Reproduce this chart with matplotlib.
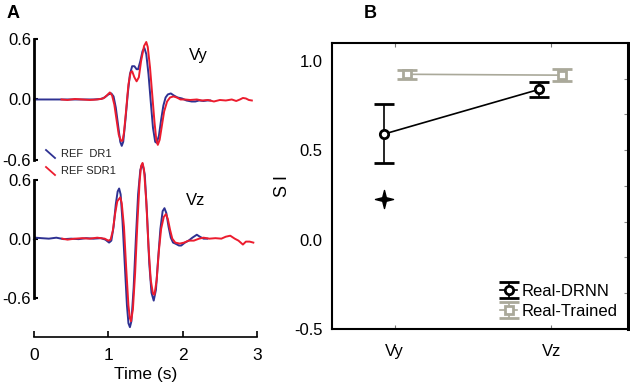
import numpy as np
import matplotlib
matplotlib.use('Agg')
import matplotlib.pyplot as plt
from matplotlib.lines import Line2D
from matplotlib.path import Path

plt.rcParams['font.family'] = ['Liberation Sans', 'DejaVu Sans']

# ---- panel A: waveforms ----
vy_dr1_t = [0.00, 0.30, 0.60, 0.80, 0.90, 0.95, 1.00, 1.04, 1.07, 1.10, 1.13, 1.16, 1.18, 1.20, 1.23, 1.26,
            1.29, 1.32, 1.35, 1.38, 1.40, 1.43, 1.46, 1.485, 1.51, 1.54, 1.57, 1.60, 1.63, 1.65, 1.68,
            1.71, 1.74, 1.77, 1.80, 1.84, 1.88, 1.93, 1.99, 2.05, 2.12, 2.17, 2.22, 2.28, 2.33, 2.37]
vy_dr1_v = [0.0, 0.0, 0.0, 0.0, 0.005, 0.02, 0.05, 0.06, 0.03, -0.08, -0.25, -0.42, -0.46, -0.42, -0.20, 0.05,
            0.25, 0.33, 0.33, 0.30, 0.30, 0.38, 0.48, 0.51, 0.45, 0.25, -0.02, -0.28, -0.42, -0.43, -0.36,
            -0.20, -0.06, 0.02, 0.05, 0.06, 0.04, 0.02, 0.01, -0.01, -0.02, -0.02, -0.01, -0.015, -0.01, -0.01]

vy_sdr1_t = [0.37, 0.45, 0.55, 0.65, 0.75, 0.85, 0.93, 0.98, 1.02, 1.05, 1.08, 1.11, 1.14, 1.17, 1.19, 1.21,
             1.24, 1.27, 1.30, 1.32, 1.35, 1.38, 1.41, 1.44, 1.48, 1.51, 1.53, 1.56, 1.59, 1.62, 1.645,
             1.665, 1.69, 1.72, 1.75, 1.79, 1.83, 1.875, 1.92, 1.97, 2.03, 2.10, 2.19, 2.26, 2.34, 2.42,
             2.50, 2.58, 2.66, 2.72, 2.77, 2.81, 2.85, 2.89, 2.93]
vy_sdr1_v = [0.0, -0.005, 0.005, 0.0, -0.005, 0.0, 0.01, 0.04, 0.07, 0.04, -0.05, -0.20, -0.35, -0.41, -0.41, -0.33,
             -0.10, 0.15, 0.27, 0.28, 0.22, 0.18, 0.22, 0.38, 0.53, 0.57, 0.52, 0.32, 0.05, -0.22, -0.40,
             -0.45, -0.40, -0.26, -0.12, -0.02, 0.02, 0.03, 0.02, 0.0, 0.0, -0.005, 0.0, -0.01, -0.005, -0.02,
             -0.005, -0.01, 0.0, -0.015, 0.0, 0.015, 0.01, -0.005, -0.01]

vz_dr1_t = [0.00, 0.02, 0.10, 0.20, 0.30, 0.40, 0.50, 0.60, 0.70, 0.80, 0.90, 0.96, 1.01, 1.04, 1.07, 1.10,
            1.125, 1.145, 1.165, 1.19, 1.22, 1.25, 1.27, 1.29, 1.31, 1.34, 1.37, 1.40, 1.43, 1.46, 1.49,
            1.52, 1.55, 1.58, 1.61, 1.64, 1.67, 1.70, 1.73, 1.755, 1.78, 1.81, 1.84, 1.87, 1.90, 1.95,
            1.98, 2.03, 2.08, 2.13, 2.19, 2.23, 2.28, 2.33]
vz_dr1_v = [-0.01, 0.01, 0.005, 0.0, 0.01, -0.005, 0.0, -0.005, 0.005, 0.0, 0.005, -0.01, -0.04, -0.02, 0.12, 0.35,
            0.48, 0.51, 0.45, 0.18, -0.25, -0.68, -0.86, -0.90, -0.84, -0.50, 0.0, 0.45, 0.70, 0.76, 0.65,
            0.25, -0.25, -0.55, -0.63, -0.52, -0.20, 0.10, 0.28, 0.31, 0.26, 0.12, 0.01, -0.04, -0.05, -0.07,
            -0.07, -0.04, -0.02, 0.01, 0.04, 0.02, 0.0, 0.0]

vz_sdr1_t = [0.38, 0.45, 0.55, 0.65, 0.75, 0.85, 0.95, 1.00, 1.03, 1.06, 1.09, 1.12, 1.16, 1.18, 1.21, 1.24,
             1.27, 1.29, 1.305, 1.33, 1.36, 1.39, 1.42, 1.44, 1.46, 1.48, 1.51, 1.54, 1.57, 1.60, 1.62,
             1.65, 1.68, 1.71, 1.745, 1.775, 1.80, 1.83, 1.86, 1.90, 1.96, 2.02, 2.08, 2.15, 2.22, 2.28,
             2.36, 2.44, 2.52, 2.58, 2.64, 2.70, 2.75, 2.81, 2.85, 2.90, 2.95]
vz_sdr1_v = [0.0, -0.01, 0.0, 0.005, 0.0, 0.01, 0.0, -0.02, -0.01, 0.08, 0.25, 0.38, 0.42, 0.36, 0.12, -0.30,
             -0.68, -0.81, -0.84, -0.72, -0.35, 0.15, 0.58, 0.74, 0.77, 0.70, 0.38, -0.08, -0.42, -0.56, -0.57,
             -0.42, -0.12, 0.10, 0.22, 0.25, 0.20, 0.09, 0.0, -0.04, -0.05, -0.04, -0.02, -0.02, 0.0, 0.01,
             0.0, 0.005, 0.0, 0.02, 0.03, 0.0, -0.02, -0.06, -0.03, -0.03, -0.04]

# ---- panel B: SI values ----
comps = ['Vy', 'Vz']
drnn_x = [0.93, 1.92]
drnn_si = [0.59, 0.84]
drnn_lo = [0.16, 0.04]
drnn_hi = [0.17, 0.04]
trained_x = [1.08, 2.07]
trained_si = [0.925, 0.92]
trained_err = [0.025, 0.035]
star_x = [0.93]
star_si = [0.23]

blue = '#2e3192'
red = '#ec1c2e'
gray = '#aaa99a'

# four-pointed star marker
star = Path([(0, 1), (0.2, 0.2), (1, 0), (0.2, -0.2), (0, -1), (-0.2, -0.2), (-1, 0), (-0.2, 0.2), (0, 1)],
            [Path.MOVETO] + [Path.LINETO] * 7 + [Path.CLOSEPOLY])

fig = plt.figure(figsize=(6.3, 3.87), dpi=100)

axT = fig.add_axes([0.054, 0.5866, 0.354, 0.3127], facecolor='none')
axBt = fig.add_axes([0.054, 0.1292, 0.354, 0.4574], facecolor='none')

axT.plot(vy_dr1_t, vy_dr1_v, color=blue, lw=1.4, clip_on=False)
axT.plot(vy_sdr1_t, vy_sdr1_v, color=red, lw=1.4, clip_on=False)
axBt.plot(vz_dr1_t, vz_dr1_v, color=blue, lw=1.4, clip_on=False)
axBt.plot(vz_sdr1_t, vz_sdr1_v, color=red, lw=1.4, clip_on=False)

for ax, lims in [(axT, (-0.6, 0.6)), (axBt, (-1.0, 0.8))]:
    ax.set_xlim(0, 3)
    ax.set_ylim(*lims)
    ax.spines['top'].set_visible(False)
    ax.spines['right'].set_visible(False)
    ax.spines['left'].set_bounds(-0.6, 0.6)
    ax.spines['left'].set_linewidth(2)
    ax.set_yticks([-0.6, 0.0, 0.6])
    ax.set_yticklabels(['-0.6', '0.0', '0.6'])
    ax.tick_params(axis='y', direction='in', length=3, width=1.5, labelsize=12, pad=2)

axT.spines['bottom'].set_visible(False)
axT.set_xticks([])
axBt.spines['bottom'].set_bounds(0, 3)
axBt.spines['bottom'].set_linewidth(1.2)
axBt.set_xticks([0, 1, 2, 3])
axBt.tick_params(axis='x', direction='in', length=4, width=1.2, labelsize=12.5, pad=8)
axBt.set_xlabel('Time (s)', fontsize=12.5, labelpad=3)

axT.text(2.21, 0.44, 'Vy', fontsize=12, ha='center', va='center')
axBt.text(2.17, 0.39, 'Vz', fontsize=12, ha='center', va='center')

# little legend with slanted handles
for (y0, col, lab) in [(154, blue, 'REF  DR1'), (171, red, 'REF SDR1')]:
    fig.add_artist(Line2D([46 / 630, 55 / 630], [(387 - y0 + 4) / 387, (387 - y0 - 4) / 387],
                          color=col, lw=1.3, transform=fig.transFigure))
    fig.text(61 / 630, (387 - y0) / 387, lab, fontsize=8, va='center', ha='left', color='#222222')

fig.text(13 / 630, (387 - 14) / 387, 'A', fontsize=13, fontweight='bold', ha='center', va='center')
fig.text(370 / 630, (387 - 14) / 387, 'B', fontsize=13, fontweight='bold', ha='center', va='center')

# ---- panel B ----
axS = fig.add_axes([0.527, 0.1499, 0.470, 0.739])
axS.errorbar(drnn_x, drnn_si, yerr=[drnn_lo, drnn_hi], color='black', lw=1.2, capsize=7, capthick=1.2,
             marker='o', ms=6, mfc='white', mec='black', mew=2, label='Real-DRNN')
axS.errorbar(trained_x, trained_si, yerr=trained_err, color=gray, lw=1.2, capsize=7, capthick=1.2,
             marker='s', ms=6, mfc='white', mec=gray, mew=2, label='Real-Trained')
axS.plot(star_x, star_si, marker=star, ms=13, color='black', ls='none')

axS.set_xlim(0.6, 2.49)
axS.set_ylim(-0.5, 1.1)
axS.set_xticks([1, 2])
axS.set_xticklabels(comps)
axS.set_yticks([-0.5, 0.0, 0.5, 1.0])
axS.set_yticklabels(['-0.5', '0.0', '0.5', '1.0'])
axS.tick_params(axis='x', direction='in', length=3, top=True, labelsize=12, pad=11, color='#777777')
axS.tick_params(axis='y', length=0, labelsize=12, pad=7)
axS.set_ylabel('S I', fontsize=13, labelpad=2)
for s in ['left', 'bottom', 'top']:
    axS.spines[s].set_linewidth(1.5)
axS.spines['right'].set_visible(False)

ax2 = axS.twinx()
ax2.set_ylim(0, 8)
ax2.set_yticks(range(1, 8))
ax2.tick_params(axis='y', direction='in', length=3, labelright=False, color='#888888')
for s in ['left', 'bottom', 'top']:
    ax2.spines[s].set_visible(False)
ax2.spines['right'].set_linewidth(2.2)

axS.legend(loc='lower right', frameon=False, fontsize=12, handlelength=1.0, handletextpad=0.3,
           borderaxespad=0.2, labelspacing=0.3)

fig.savefig('out.png', dpi=100)
